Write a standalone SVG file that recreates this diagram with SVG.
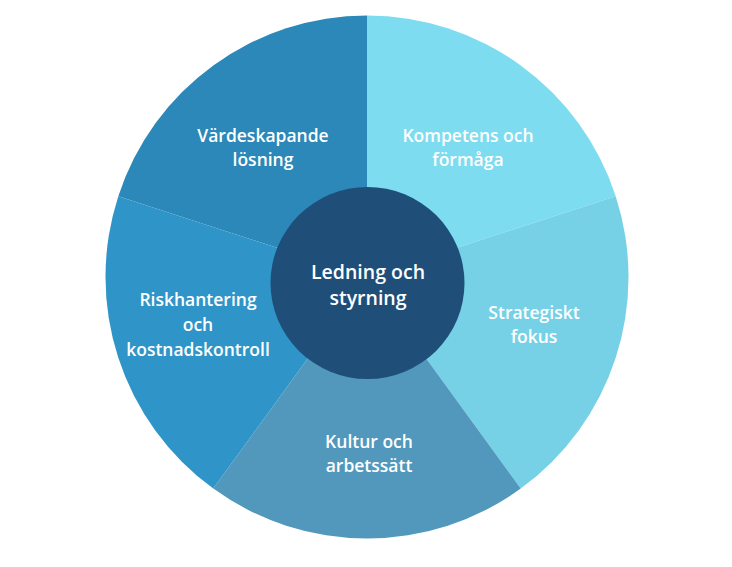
<svg xmlns="http://www.w3.org/2000/svg" width="732" height="567" viewBox="0 0 732 567">
<style>
.lbl{font-family:"Open Sans","Noto Sans",sans-serif;font-size:17.5px;font-weight:600;fill:#ffffff;text-anchor:middle}
.ctr{font-family:"Open Sans","Noto Sans",sans-serif;font-size:19.5px;font-weight:600;fill:#ffffff;text-anchor:middle}
</style>
<rect width="732" height="567" fill="#ffffff"/>
<g id="seg-vardeskapande">
<path d="M367,277 L367,15.5 A261.5,261.5 0 0 0 118.3,196.2 Z" fill="#2b88b8"/>
<text class="lbl" x="263" y="142">Värdeskapande</text>
<text class="lbl" x="263" y="166">lösning</text>
</g>
<g id="seg-kompetens">
<path d="M367,277 L367,15.5 A261.5,261.5 0 0 1 615.7,196.2 Z" fill="#7ddcf0"/>
<text class="lbl" x="468" y="142">Kompetens och</text>
<text class="lbl" x="468" y="166">förmåga</text>
</g>
<g id="seg-strategiskt">
<path d="M367,277 L615.7,196.2 A261.5,261.5 0 0 1 520.7,488.6 Z" fill="#76d1e6"/>
<text class="lbl" x="534" y="319">Strategiskt</text>
<text class="lbl" x="534" y="343">fokus</text>
</g>
<g id="seg-kultur">
<path d="M367,277 L520.7,488.6 A261.5,261.5 0 0 1 213.3,488.6 Z" fill="#5198bc"/>
<text class="lbl" x="369" y="448">Kultur och</text>
<text class="lbl" x="369" y="472">arbetssätt</text>
</g>
<g id="seg-riskhantering">
<path d="M367,277 L213.3,488.6 A261.5,261.5 0 0 1 118.3,196.2 Z" fill="#2f95c8"/>
<text class="lbl" x="198" y="306">Riskhantering</text>
<text class="lbl" x="198" y="331">och</text>
<text class="lbl" x="198" y="356">kostnadskontroll</text>
</g>
<g id="connectors"></g>
<g id="center">
<ellipse cx="367.5" cy="283" rx="97" ry="96" fill="#1f4e79"/>
<text class="ctr" x="368" y="279">Ledning och</text>
<text class="ctr" x="368" y="305">styrning</text>
</g>
</svg>
